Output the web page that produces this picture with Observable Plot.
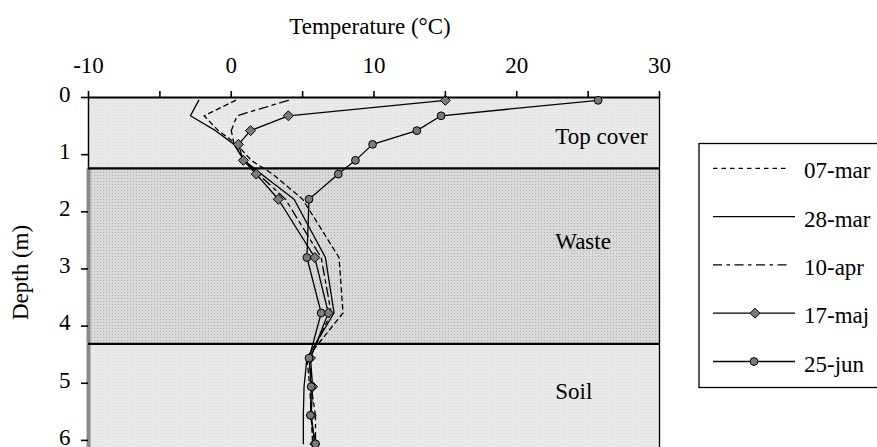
<!DOCTYPE html>
<html><head><meta charset="utf-8">
<script src="https://cdn.jsdelivr.net/npm/d3@7"></script>
<script src="https://cdn.jsdelivr.net/npm/@observablehq/plot@0.6"></script>
<style>body{margin:0;background:#fff}</style>
</head><body><div id="chart"></div>
<script>
// ---- data ----
const seriesNames = ["07-mar", "28-mar", "10-apr", "17-maj", "25-jun"];
const depths = [0.05, 0.32, 0.58, 0.82, 1.1, 1.34, 1.78, 2.8, 3.77, 4.56, 5.06, 5.56, 6.06];
const mar07 = [0.3, -1.9, -0.9, 0.4, 1.4, 2.9, 5.0, 7.55, 7.83, 5.3, 5.5, 5.6, 5.7];
const mar28 = [-2.28, -2.86, -1.1, 0.2, 0.9, 2.1, 4.4, 6.6, 7.2, 5.3, 5.1, 5.05, 5.05];
const apr10 = [4.0, 0.4, 0.0, 0.2, 0.9, 1.9, 3.8, 6.3, 7.0, 5.5, 5.6, 5.9, 5.9];
const maj17 = [15.0, 4.0, 1.35, 0.5, 0.85, 1.75, 3.3, 5.85, 6.8, 5.55, 5.7, 5.6, 5.85];
const jun25 = [25.7, 14.7, 13.0, 9.9, 8.7, 7.5, 5.45, 5.3, 6.3, 5.45, 5.6, 5.55, 5.9];
const xTicks = [-10, -5, 0, 5, 10, 15, 20, 25, 30];
const yTicks = [0, 1, 2, 3, 4, 5, 6];
const layerNames = ["Top cover", "Waste", "Soil"];
const layerTop = [0, 1.24, 4.31];
const layerBottom = [1.24, 4.31, 6.124];
const layerLabelTemp = [22.7, 22.7, 22.7];
const layerLabelDepth = [0.68, 2.52, 5.14];

// ---- build tables ----
const values = [mar07, mar28, apr10, maj17, jun25];
const rows = seriesNames.map((s, i) => values[i].map((t, j) => ({series: s, temp: t, depth: depths[j]})));
const layers = layerNames.map((n, i) => ({name: n, top: layerTop[i], bottom: layerBottom[i], lt: layerLabelTemp[i], ld: layerLabelDepth[i]}));

const dashes = {"07-mar": "4.5,4", "28-mar": null, "10-apr": "9,4.5,3.5,4.5", "17-maj": null, "25-jun": null};
const FONT = "'Liberation Serif','Times New Roman',Times,serif";

const defs = () => {
  const d = d3.create("svg:defs");
  const p = d.append("pattern").attr("id", "wastePat").attr("width", 3).attr("height", 3).attr("patternUnits", "userSpaceOnUse");
  p.append("rect").attr("width", 3).attr("height", 3).attr("fill", "#d9d9d9");
  p.append("rect").attr("x", 1).attr("y", 1).attr("width", 1).attr("height", 1).attr("fill", "#ababab");
  const q = d.append("pattern").attr("id", "lightPat").attr("width", 3).attr("height", 3).attr("patternUnits", "userSpaceOnUse");
  q.append("rect").attr("width", 3).attr("height", 3).attr("fill", "#e9e9e9");
  q.append("rect").attr("x", 1).attr("y", 1).attr("width", 1).attr("height", 1).attr("fill", "#dcdcdc");
  return d.node();
};

const lineMarks = rows.map((r, i) => Plot.line(r, {
  x: "temp", y: "depth", stroke: "black", strokeWidth: 1.3,
  strokeDasharray: dashes[seriesNames[i]] || undefined
}));

const chart = Plot.plot({
  width: 877, height: 447,
  marginLeft: 88, marginRight: 218, marginTop: 97, marginBottom: 0,
  style: {fontFamily: FONT, fontSize: "23px", color: "black", background: "white", overflow: "visible"},
  x: {domain: [xTicks[0], xTicks[xTicks.length - 1]]},
  y: {domain: [layerTop[0], layerBottom[layerBottom.length - 1]], reverse: true},
  marks: [
    defs,
    Plot.rect(layers.filter(d => d.name !== "Waste"), {y1: "top", y2: "bottom", fill: "url(#lightPat)"}),
    Plot.rect(layers.filter(d => d.name === "Waste"), {y1: "top", y2: "bottom", fill: "url(#wastePat)"}),
    Plot.ruleX(layers.slice(1), {x: () => xTicks[0], y1: "top", y2: "bottom", stroke: "#8a8a8a", strokeWidth: 4}),
    Plot.ruleX(layers.slice(0, 1), {x: () => xTicks[0], y1: "top", y2: "bottom", stroke: "black", strokeWidth: 1.5}),
    Plot.ruleX([xTicks[xTicks.length - 1]], {stroke: "black", strokeWidth: 1.3}),
    Plot.ruleY(layers.slice(1), {y: "top", stroke: "black", strokeWidth: 2.4}),
    Plot.ruleY([0], {stroke: "black", strokeWidth: 2}),
    Plot.text(layers, {x: "lt", y: "ld", text: "name", textAnchor: "start", fontSize: 23, fill: "black"}),
    ...lineMarks,
    Plot.dot(rows[3], {x: "temp", y: "depth", symbol: "diamond2", r: 4.5, fill: "#7a7a7a", stroke: "black", strokeWidth: 1}),
    Plot.dot(rows[4], {x: "temp", y: "depth", symbol: "circle", r: 3.9, fill: "#7a7a7a", stroke: "black", strokeWidth: 1}),
    Plot.axisX({anchor: "top", ticks: xTicks, tickFormat: d => d % 10 === 0 ? String(d) : "", tickSize: 7, tickPadding: 18, strokeWidth: 1.6, label: null, fontSize: 23}),
    Plot.axisY({anchor: "left", ticks: yTicks, tickFormat: () => "", tickSize: 7, strokeWidth: 1.6, label: "Depth (m)", labelAnchor: "center", labelArrow: "none", labelOffset: 77, fontSize: 23}),
    Plot.axisY({anchor: "left", ticks: yTicks, tickFormat: d => String(d), tickSize: 0, tickPadding: 18, label: null, fontSize: 23, dy: -3}),
    Plot.text(["Temperature (°C)"], {frameAnchor: "top", dy: -64, dx: -4, lineAnchor: "bottom", fontSize: 23, fill: "black"})
  ]
});

// ---- legend ----
const svg = d3.select(chart);
const lg = svg.append("g").attr("font-family", FONT).attr("font-size", 23).attr("text-anchor", "start");
lg.append("rect").attr("x", 699).attr("y", 143.5).attr("width", 220).attr("height", 244)
  .attr("fill", "white").attr("stroke", "black").attr("stroke-width", 1.3);
seriesNames.forEach((s, i) => {
  const y = 168.3 + i * 48.3;
  lg.append("line").attr("x1", 713).attr("x2", dashes[s] ? 789 : 795).attr("y1", y).attr("y2", y)
    .attr("stroke", "black").attr("stroke-width", 1.3).attr("stroke-dasharray", dashes[s]);
  if (s === "17-maj") {
    lg.append("path").attr("d", d3.symbol(d3.symbolDiamond2, Math.PI * 4.5 * 4.5)())
      .attr("transform", `translate(755,${y})`).attr("fill", "#7a7a7a").attr("stroke", "black");
  }
  if (s === "25-jun") {
    lg.append("circle").attr("cx", 754).attr("cy", y).attr("r", 3.9).attr("fill", "#7a7a7a").attr("stroke", "black");
  }
  lg.append("text").attr("x", 804).attr("y", y + 10).attr("text-anchor", "start").attr("fill", "black").text(s);
});

document.getElementById("chart").appendChild(chart);
</script>
</body></html>
